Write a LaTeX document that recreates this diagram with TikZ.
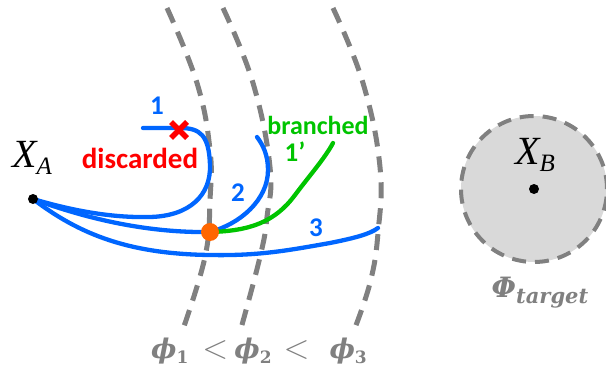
\documentclass[tikz,border=0pt]{standalone}
\usepackage{fix-cm}
\usepackage[no-math]{fontspec}
\setmainfont{Carlito}
\newfontfamily\pf{DejaVu Serif}
\newfontfamily\lsf{Liberation Serif}
\definecolor{cblue}{RGB}{0,102,255}
\definecolor{cgreen}{RGB}{0,196,0}
\definecolor{corange}{RGB}{255,102,0}
\definecolor{cred}{RGB}{255,0,0}
\definecolor{cgray}{RGB}{128,128,128}
\definecolor{cfill}{RGB}{217,217,217}
\newcommand{\phisub}[1]{{\fontsize{27}{30}\selectfont\pf\bfseries\itshape ϕ}\raisebox{-5pt}{\fontsize{17}{20}\selectfont\pf\bfseries #1}}
\newcommand{\Xsub}[1]{{\fontsize{40}{44}\selectfont\lsf\itshape X}\raisebox{-7pt}{\fontsize{25}{28}\selectfont\lsf\itshape #1}}
\newcommand{\lessthan}{{\fontsize{34}{36}\selectfont$<$}}
\tikzset{
  traj/.style={cblue, line width=4.3pt, line cap=round},
  branchline/.style={cgreen, line width=4.3pt, line cap=round},
  level/.style={cgray, line width=5pt, dash pattern=on 16pt off 10pt},
  dotnode/.style={circle, fill=black, inner sep=0pt, minimum size=10pt},
  tlabel/.style={font=\fontsize{27}{30}\selectfont\bfseries, inner sep=0pt},
}
\begin{document}
\begin{tikzpicture}[x=1pt,y=-1pt]
\useasboundingbox (0,0) rectangle (606,369);
% level sets
\draw[level] plot[smooth, tension=0.7] coordinates {(167,8) (197,83) (210,150) (210,200) (205,257) (182,332)};
\draw[level] plot[smooth, tension=0.7] coordinates {(223,8) (253,83) (270,167) (267,217) (260,257) (240,332)};
\draw[level] plot[smooth, tension=0.7] coordinates {(333,8) (363,83) (380,167) (378,233) (370,283) (353,333)};
% target
\node[circle, fill=cfill, draw=cgray, line width=4pt, dash pattern=on 14pt off 9pt, minimum size=146pt, inner sep=0pt] (T) at (534,189) {};
\node[dotnode] (B) at (534,189) {};
\node[inner sep=0pt] (XB) at (535,155) {\Xsub{B}};
\node[inner sep=0pt, cgray, font=\fontsize{28}{30}\selectfont\pf\bfseries\itshape] (PT) at (540,293) {Φ\raisebox{-6pt}{\fontsize{21}{22}\selectfont target}};
% nodes
\coordinate (A) at (33,199);
\coordinate (O) at (210,232);
\coordinate (E1) at (143,128);
\coordinate (E2) at (257,137);
\coordinate (E3) at (378,228);
\coordinate (EG) at (333,143);
% trajectories
\draw[traj] (A) .. controls (70,210) and (110,218) .. (150,217) .. controls (190,216) and (211,195) .. (210,165) .. controls (209,135) and (200,128) .. (180,128) -- (E1);
\draw[traj] (A) .. controls (90,220) and (150,233) .. (O);
\draw[traj] (O) .. controls (240,224) and (268,200) .. (268,170) .. controls (268,155) and (263,145) .. (E2);
\draw[traj] (A) .. controls (80,235) and (130,254) .. (210,255) .. controls (260,256) and (290,250) .. (330,243) .. controls (355,238) and (370,234) .. (E3);
\draw[branchline] (O) .. controls (250,231) and (275,222) .. (295,195) .. controls (310,175) and (325,158) .. (EG);
\node[dotnode] (XAdot) at (A) {};
\node[circle, fill=corange, inner sep=0pt, minimum size=18pt] (Odot) at (O) {};
\node[inner sep=0pt] (XA) at (32,158) {\Xsub{A}};
% cross
\node[inner sep=0pt] (X) at (179,130) {\tikz[x=1pt,y=1pt]{\draw[cred, line width=5.5pt] (-8,-8) -- (8,8) (-8,8) -- (8,-8);}};
% labels
\node[tlabel, cblue] (L1) at (157,106) {1};
\node[tlabel, cblue] (L2) at (238,193) {2};
\node[tlabel, cblue] (L3) at (316,228) {3};
\node[tlabel, cgreen] (L1p) at (295,152) {1’};
\node[tlabel, cgreen, font=\fontsize{26}{30}\selectfont\bfseries] (Lb) at (318,125) {branched};
\node[tlabel, cred, font=\fontsize{29}{32}\selectfont\bfseries] (Ld) at (140,158) {discarded};
\node[inner sep=0pt, cgray] (PL) at (259,351) {\phisub{1}\hspace{14pt}\lessthan\hspace{6pt}\phisub{2}\hspace{12pt}\lessthan\hspace{20pt}\phisub{3}};
\end{tikzpicture}
\end{document}
